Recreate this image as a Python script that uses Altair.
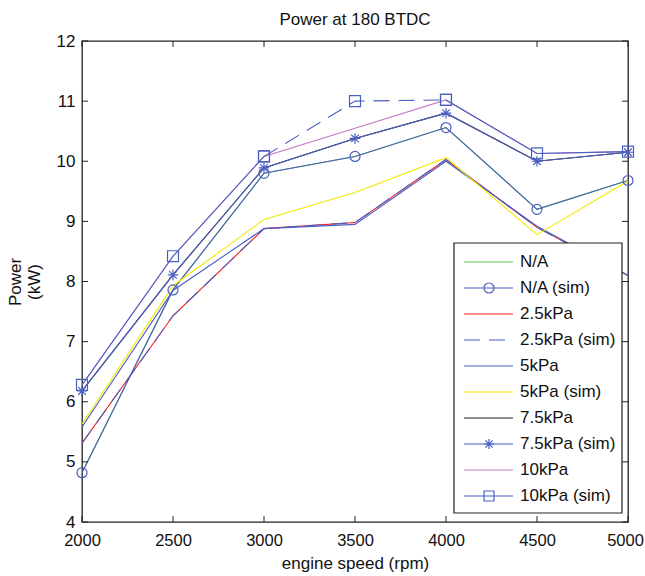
import altair as alt
import pandas as pd

# ---------------- data ----------------
rpm = [2000, 2500, 3000, 3500, 4000, 4500, 5000]

na = [4.82, 7.86, 9.80, 10.08, 10.56, 9.20, 9.68]
na_sim = [4.82, 7.86, 9.80, 10.08, 10.56, 9.20, 9.68]
kpa25 = [5.31, 7.43, 8.88, 8.98, 10.03, 8.90, 8.10]
kpa25_sim = [5.31, 7.43, 8.88, 8.98, 10.03, 8.90, 8.10]
kpa5 = [5.58, 7.85, 8.88, 8.95, 10.00, 8.92, 8.10]
kpa5_sim = [5.63, 7.93, 9.03, 9.48, 10.06, 8.78, 9.67]
kpa75 = [6.18, 8.11, 9.89, 10.38, 10.80, 10.00, 10.15]
kpa75_sim = [6.18, 8.11, 9.89, 10.38, 10.80, 10.00, 10.15]
kpa10 = [6.28, 8.42, 10.08, 10.55, 11.02, 10.13, 10.16]
kpa10_sim = [6.28, 8.42, 10.08, 11.00, 11.02, 10.13, 10.16]

names = ["N/A", "N/A (sim)", "2.5kPa", "2.5kPa (sim)", "5kPa",
         "5kPa (sim)", "7.5kPa", "7.5kPa (sim)", "10kPa", "10kPa (sim)"]
values = [na, na_sim, kpa25, kpa25_sim, kpa5, kpa5_sim, kpa75, kpa75_sim, kpa10, kpa10_sim]

x_ticks = [2000, 2500, 3000, 3500, 4000, 4500, 5000]
y_ticks = [4, 5, 6, 7, 8, 9, 10, 11, 12]

# ---------------- styles ----------------
BLUE = "#4a5fc0"
GREEN = "#6cc24a"
RED = "#ff1a1a"
YELLOW = "#f2ea00"
BLACK = "#222222"
MAGENTA = "#c678c4"
colors = [GREEN, BLUE, RED, BLUE, BLUE, YELLOW, BLACK, BLUE, MAGENTA, BLUE]
dashes = [[1, 0], [1, 0], [1, 0], [16, 9], [1, 0], [1, 0], [1, 0], [1, 0], [1, 0], [1, 0]]
FONT = "Liberation Sans"
FS = 17
W, H = 546, 481
ASTERISK = "M0,-1V1M-1,0H1M-0.72,-0.72L0.72,0.72M-0.72,0.72L0.72,-0.72"

# 10kPa (sim): middle stretch drawn dashed
DASH_SPAN = (3000, 4000)

rows = []
for name, vals in zip(names, values):
    for r, v in zip(rpm, vals):
        if name == "10kPa (sim)":
            if r <= DASH_SPAN[0]:
                rows.append(dict(series=name, rpm=r, power=v, part="a"))
            if DASH_SPAN[0] <= r <= DASH_SPAN[1]:
                rows.append(dict(series=name, rpm=r, power=v, part="b"))
            if r >= DASH_SPAN[1]:
                rows.append(dict(series=name, rpm=r, power=v, part="c"))
        else:
            rows.append(dict(series=name, rpm=r, power=v, part="a"))
df = pd.DataFrame(rows)

x_enc = alt.X("rpm:Q", scale=alt.Scale(domain=[2000, 5000], nice=False, zero=False),
              axis=alt.Axis(values=x_ticks, title="engine speed (rpm)", ticks=False,
                            domain=False, grid=False, labelPadding=10, format="d",
                            titlePadding=7, labelFlush=False, labelOverlap=False,
                            labelFontSize=16.5,
                            labelOffset=alt.condition("datum.value == 5000",
                                                      alt.value(-3), alt.value(0))))
y_enc = alt.Y("power:Q", scale=alt.Scale(domain=[4, 12], nice=False, zero=False),
              axis=alt.Axis(values=y_ticks, title=["Power", "(kW)"], ticks=False,
                            domain=False, grid=False, labelPadding=7, titlePadding=13,
                            labelFlush=False, labelOverlap=False))

base = alt.Chart(df)


def line_layer(name, color, dash=None, part=None, width=1.1):
    ch = base.transform_filter(alt.datum.series == name)
    if part is not None:
        ch = ch.transform_filter(alt.datum.part == part)
    kw = dict(color=color, strokeWidth=width, clip=True)
    if dash is not None:
        kw["strokeDash"] = dash
    return ch.mark_line(**kw).encode(x=x_enc, y=y_enc, detail="part:N", order="rpm:Q")


def marker_layer(name, shape, size):
    return base.transform_filter(alt.datum.series == name).mark_point(
        shape=shape, filled=False, size=size, color=BLUE, strokeWidth=1.2, opacity=1
    ).encode(x=x_enc, y=y_enc)


layers = [
    # experiment lines
    line_layer("N/A", GREEN),
    line_layer("2.5kPa", RED),
    line_layer("10kPa", MAGENTA),
    line_layer("7.5kPa", BLACK),
    line_layer("5kPa", BLUE),
    # sim lines
    line_layer("N/A (sim)", BLUE),
    line_layer("2.5kPa (sim)", BLUE, dash=[16, 9]),
    line_layer("7.5kPa (sim)", BLUE),
    line_layer("10kPa (sim)", BLUE, part="a"),
    line_layer("10kPa (sim)", BLUE, part="c"),
    line_layer("10kPa (sim)", BLUE, dash=[16, 9], part="b"),
    line_layer("5kPa (sim)", YELLOW),
    marker_layer("N/A (sim)", "circle", 100),
    marker_layer("7.5kPa (sim)", ASTERISK, 110),
    marker_layer("10kPa (sim)", "square", 120),
]

# inward ticks (MATLAB box style)
xt = alt.Chart(pd.DataFrame({"rpm": x_ticks}))
yt = alt.Chart(pd.DataFrame({"power": y_ticks}))
TL = 6
layers += [
    xt.mark_rule(color=BLACK, strokeWidth=1).encode(x=x_enc, y=alt.value(H - TL), y2=alt.value(H)),
    xt.mark_rule(color=BLACK, strokeWidth=1).encode(x=x_enc, y=alt.value(0), y2=alt.value(TL)),
    yt.mark_rule(color=BLACK, strokeWidth=1).encode(y=y_enc, x=alt.value(0), x2=alt.value(TL)),
    yt.mark_rule(color=BLACK, strokeWidth=1).encode(y=y_enc, x=alt.value(W - TL), x2=alt.value(W)),
]

main = alt.layer(*layers)

# ---------------- legend ----------------
leg_df = pd.DataFrame({"name": names})
LX0, LX1, LY0, LY1 = 372, 540, 202, 472
ly = alt.Y("name:N", scale=alt.Scale(type="point", domain=names, range=[221, 455], padding=0),
           axis=None)
lcol = alt.Color("name:N", scale=alt.Scale(domain=names, range=colors), legend=None)
ldash = alt.StrokeDash("name:N", scale=alt.Scale(domain=names, range=dashes), legend=None)
lg = alt.Chart(leg_df)
mark_names = ["N/A (sim)", "7.5kPa (sim)", "10kPa (sim)"]
mark_shapes = ["circle", ASTERISK, "square"]
legend = alt.layer(
    alt.Chart(pd.DataFrame({"k": [0]})).mark_rect(fill="white", stroke=BLACK, strokeWidth=1.2).encode(
        x=alt.value(LX0), x2=alt.value(LX1), y=alt.value(LY0), y2=alt.value(LY1)),
    lg.mark_rule(strokeWidth=1.1).encode(x=alt.value(382), x2=alt.value(431), y=ly,
                                         color=lcol, strokeDash=ldash),
    lg.transform_filter(alt.FieldOneOfPredicate(field="name", oneOf=mark_names)).mark_point(
        filled=False, size=100, color=BLUE, strokeWidth=1.2, opacity=1).encode(
        x=alt.value(407), y=ly,
        shape=alt.Shape("name:N", scale=alt.Scale(domain=mark_names, range=mark_shapes), legend=None)),
    lg.mark_text(align="left", baseline="middle", font=FONT, fontSize=FS, color="#111111").encode(
        x=alt.value(438), y=ly, text="name:N"),
)

chart = alt.layer(main, legend).resolve_scale(y="independent", x="independent").properties(
    width=W, height=H,
    title=alt.TitleParams("Power at 180 BTDC", fontSize=FS, fontWeight="normal", font=FONT,
                          anchor="middle", offset=3, color="#111111"),
    padding={"left": 82, "top": 41, "right": 17, "bottom": 54},
    autosize=alt.AutoSizeParams(type="none"),
).configure_view(stroke=BLACK, strokeWidth=1.3).configure_axis(
    labelFont=FONT, titleFont=FONT, labelFontSize=FS, titleFontSize=FS,
    labelColor="#111111", titleColor="#111111", titleFontWeight="normal",
)

chart.save("out.html", embed_options={"renderer": "svg", "actions": False})
